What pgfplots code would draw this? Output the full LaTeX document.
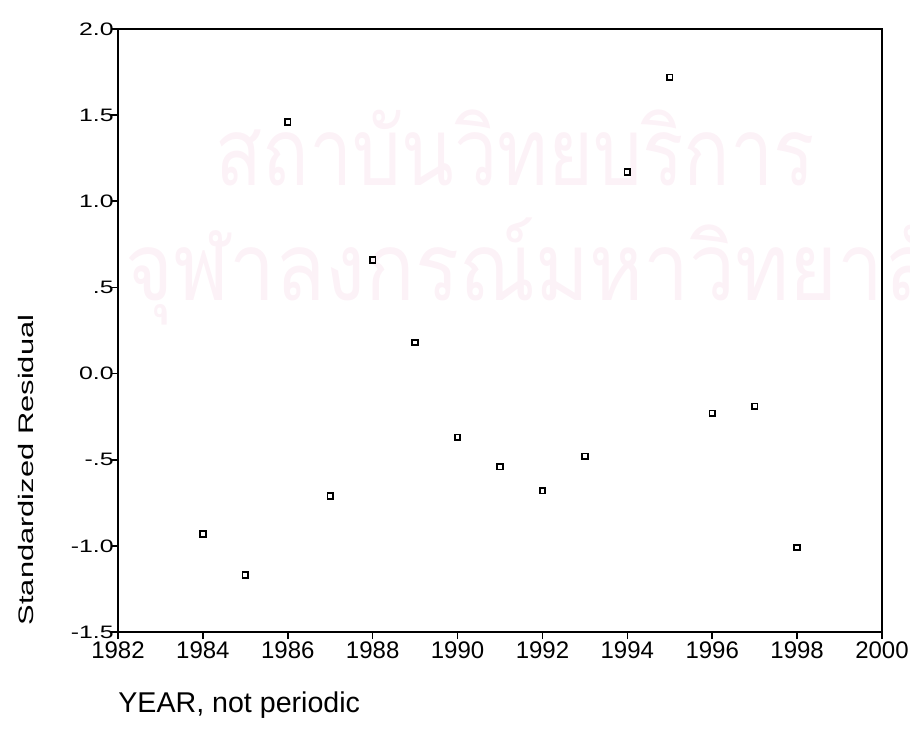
\documentclass[border=0pt]{standalone}
\usepackage{fontspec}
\setmainfont{Liberation Sans}
\newfontfamily\thaifont[Script=Thai]{Loma}
\usepackage{pgfplots}
\pgfplotsset{compat=1.18}

\definecolor{wmpink}{RGB}{252,242,247}

% standardized residuals by year
\pgfplotstableread{
year  resid
1984  -0.93
1985  -1.17
1986   1.46
1987  -0.71
1988   0.66
1989   0.18
1990  -0.37
1991  -0.54
1992  -0.68
1993  -0.48
1994   1.17
1995   1.72
1996  -0.23
1997  -0.19
1998  -1.01
}\residtable

\newcommand{\ylab}[1]{\scalebox{1.38}[1]{#1}}

\begin{document}
\begin{tikzpicture}
\path[use as bounding box] (0,0) rectangle (455pt,368pt);

% faint institutional watermark behind the plot
\node[anchor=base west, text=wmpink, inner sep=0pt,
      font=\thaifont\fontsize{41}{44}\selectfont] at (107.5pt,275.5pt)
      {\scalebox{0.94}[1.15]{สถาบันวิทยบริการ}};
\node[anchor=base west, text=wmpink, inner sep=0pt,
      font=\thaifont\fontsize{41}{44}\selectfont] at (62.5pt,218pt)
      {\scalebox{1}[1.15]{จุฬาลงกรณ์มหาวิทยาลัย}};

\begin{axis}[
  at={(59pt,52pt)}, anchor=south west,
  scale only axis, width=382pt, height=301.5pt,
  xmin=1982, xmax=2000, ymin=-1.5, ymax=2.0,
  xtick={1982,1984,1986,1988,1990,1992,1994,1996,1998,2000},
  xticklabels={1982,1984,1986,1988,1990,1992,1994,1996,1998,2000},
  ytick={-1.5,-1,-0.5,0,0.5,1,1.5,2},
  yticklabels={\ylab{-1.5},\ylab{-1.0},\ylab{-.5},\ylab{0.0},\ylab{.5},\ylab{1.0},\ylab{1.5},\ylab{2.0}},
  xtick pos=bottom, ytick pos=left,
  tick align=outside,
  major tick length=3.5pt,
  axis line style={line width=1pt, black},
  tick style={line width=0.8pt, black},
  xticklabel style={font=\fontsize{12}{13}\selectfont, inner sep=0pt, yshift=-1pt},
  yticklabel style={font=\fontsize{9}{10}\selectfont, inner sep=0pt, xshift=1.5pt},
  clip=false,
]
\addplot[only marks, mark=square, mark size=1.4pt,
         mark options={line width=0.9pt, black, fill=none}]
  table[x=year, y=resid] {\residtable};
\end{axis}

\node[rotate=90, inner sep=0pt, font=\fontsize{10.5}{12}\selectfont]
  at (12.75pt,133pt) {\scalebox{1.47}[1]{Standardized Residual}};
\node[anchor=base west, inner sep=0pt, font=\fontsize{14.3}{16}\selectfont]
  at (59pt,12pt) {YEAR, not periodic};
\end{tikzpicture}
\end{document}
